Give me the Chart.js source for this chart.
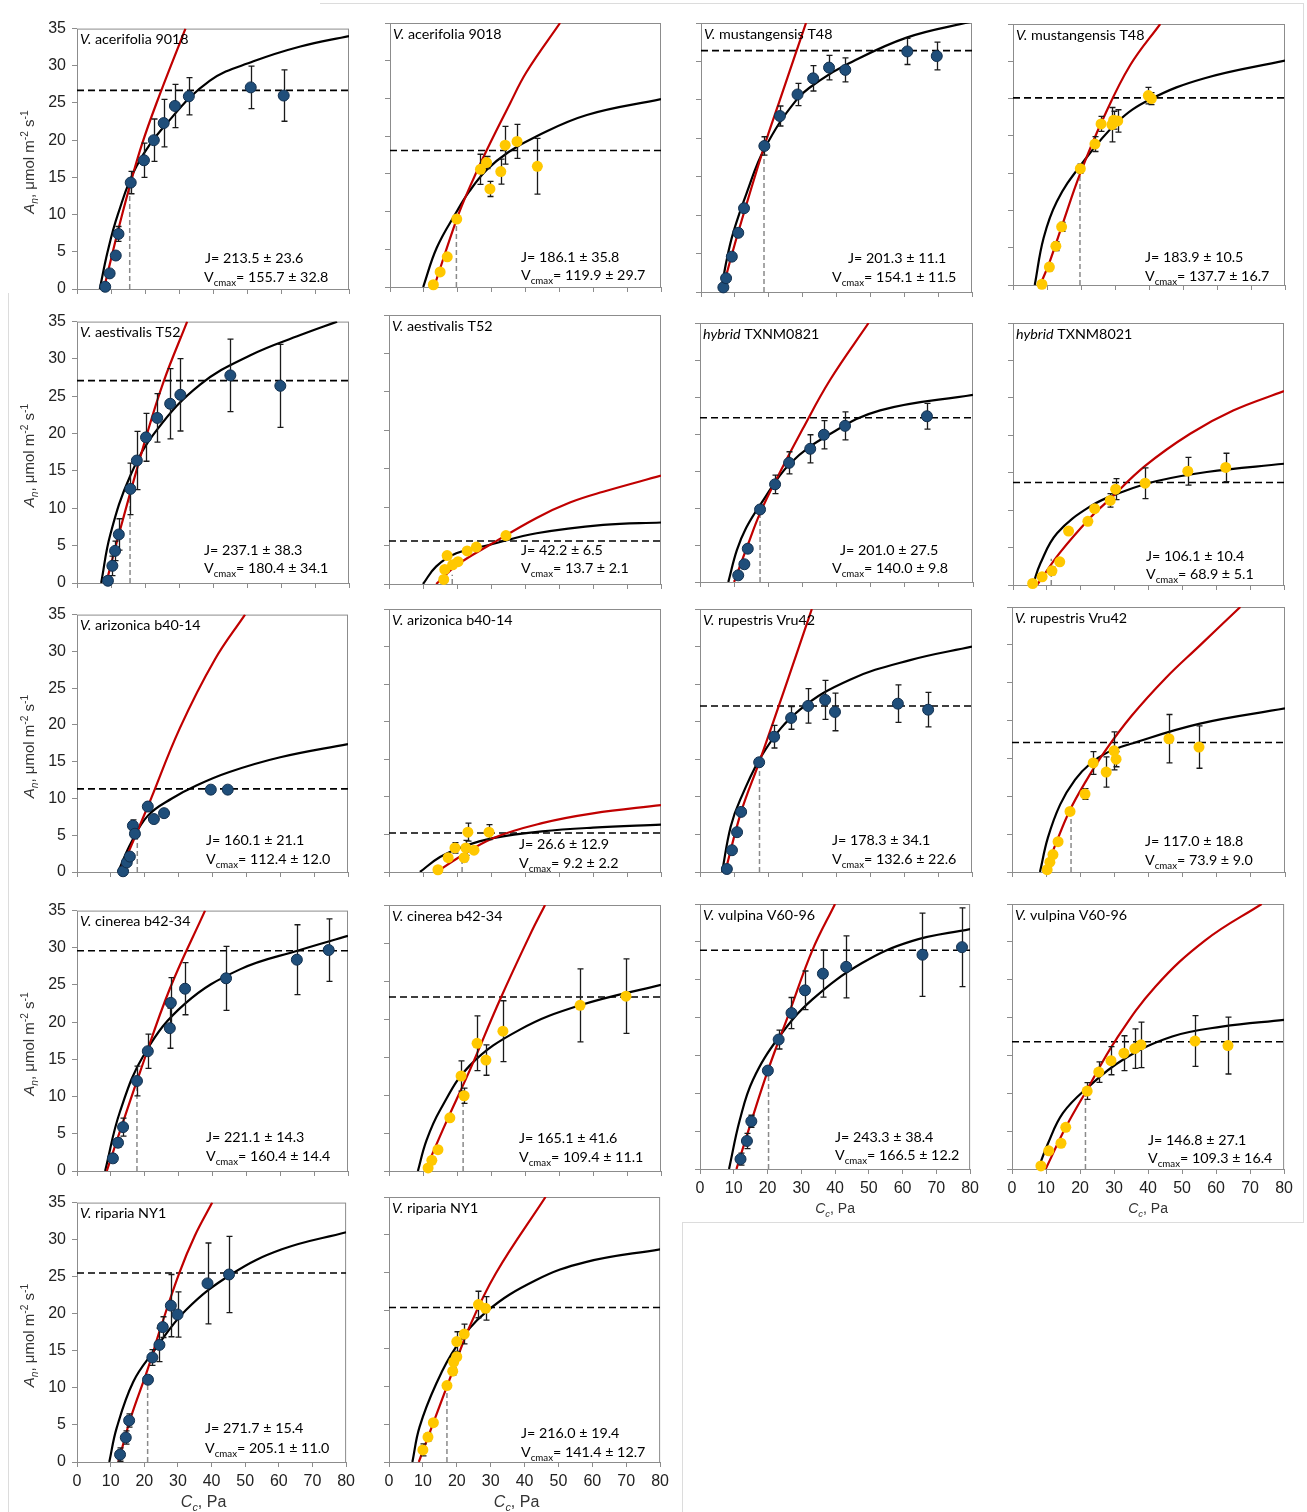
<!DOCTYPE html>
<html>
<head>
<meta charset="utf-8">
<script src="https://cdn.jsdelivr.net/npm/chart.js@4.4.1/dist/chart.umd.min.js"></script>
<style>
  body { margin: 0; background: #fff; }
  #fig { position: relative; width: 1307px; height: 1512px; overflow: hidden; background: #fff; }
  #fig canvas { position: absolute; }
  .rule { position: absolute; background: #dcdcdc; }
</style>
</head>
<body>
<div id="fig">
  <div class="rule" style="left:320px;top:3px;width:984px;height:1px"></div>
  <div class="rule" style="left:1303px;top:3px;width:1px;height:1220px"></div>
  <div class="rule" style="left:8px;top:293px;width:1px;height:1219px"></div>
  <div class="rule" style="left:682px;top:1222px;width:622px;height:1px"></div>
  <div class="rule" style="left:682px;top:1222px;width:1px;height:290px"></div>
</div>
<script>
// panel labels
const speciesItalic = ["V.", "V.", "V.", "V.", "V.", "V.", "hybrid", "hybrid", "V.", "V.",
  "V.", "V.", "V.", "V.", "V.", "V.", "V.", "V."];
const speciesName = [" acerifolia 9018", " acerifolia 9018", " mustangensis T48", " mustangensis T48",
  " aestivalis T52", " aestivalis T52", " TXNM0821", " TXNM8021", " arizonica b40-14", " arizonica b40-14",
  " rupestris Vru42", " rupestris Vru42", " cinerea b42-34", " cinerea b42-34", " vulpina V60-96",
  " vulpina V60-96", " riparia NY1", " riparia NY1"];
const jValues = ["213.5 ± 23.6", "186.1 ± 35.8", "201.3 ± 11.1", "183.9 ± 10.5", "237.1 ± 38.3", "42.2 ± 6.5",
  "201.0 ± 27.5", "106.1 ± 10.4", "160.1 ± 21.1", "26.6 ± 12.9", "178.3 ± 34.1", "117.0 ± 18.8",
  "221.1 ± 14.3", "165.1 ± 41.6", "243.3 ± 38.4", "146.8 ± 27.1", "271.7 ± 15.4", "216.0 ± 19.4"];
const vcmaxValues = ["155.7 ± 32.8", "119.9 ± 29.7", "154.1 ± 11.5", "137.7 ± 16.7", "180.4 ± 34.1", "13.7 ± 2.1",
  "140.0 ± 9.8", "68.9 ± 5.1", "112.4 ± 12.0", "9.2 ± 2.2", "132.6 ± 22.6", "73.9 ± 9.0",
  "160.4 ± 14.4", "109.4 ± 11.1", "166.5 ± 12.2", "109.3 ± 16.4", "205.1 ± 11.0", "141.4 ± 12.7"];

const xTicks = [0, 10, 20, 30, 40, 50, 60, 70, 80];
const yTicks = [0, 5, 10, 15, 20, 25, 30, 35];

// measured points: [Cc, An, error]
const obs1 = [[8.3,0.3,0],[9.6,2.1,0],[11.4,4.5,0.4],[12.2,7.4,1.0],[15.8,14.3,1.5],[19.7,17.3,2.3],[22.6,20.0,2.85],[25.5,22.3,3.2],[28.8,24.6,2.9],[32.9,25.9,2.5],[51.1,27.1,2.85],[60.8,26.0,3.45]];
const obs2 = [[12.8,0.3,0.3],[14.8,2.0,0],[16.9,4.0,0],[19.7,9.0,0],[26.7,15.6,2.0],[28.5,16.5,0.8],[29.5,13.0,1.0],[32.7,15.3,1.65],[34.0,18.8,2.5],[37.5,19.3,2.25],[43.5,16.0,3.7]];
const obs3 = [[6.6,0.6,0],[7.4,1.8,0],[9.1,4.6,0],[11.0,7.7,0],[12.7,10.9,0],[18.7,19.0,1.2],[23.3,22.9,1.3],[28.5,25.7,1.45],[33.1,27.8,1.65],[37.8,29.2,1.6],[42.6,28.9,1.55],[60.9,31.3,1.7],[69.6,30.7,1.8]];
const obs4 = [[8.5,0.1,0],[10.7,2.4,0.5],[12.6,5.2,0.6],[14.3,7.8,0.6],[19.8,15.6,0.6],[24.1,18.9,1.0],[25.9,21.6,1.0],[29.1,21.5,2.3],[29.6,22.1,1.2],[30.8,22.0,1.5],[39.8,25.4,1.1],[40.7,25.0,0.8]];
const obs5 = [[9.1,0.3,0.5],[10.4,2.3,1.3],[11.2,4.3,1.3],[12.3,6.5,2.1],[15.7,12.6,3.45],[17.6,16.4,3.9],[20.3,19.5,3.2],[23.6,22.1,3.25],[27.4,24.0,4.7],[30.4,25.2,4.85],[45.1,27.8,4.85],[59.8,26.4,5.55]];
const obs6 = [[16.1,0.6,0.4],[16.4,1.9,0],[17.1,3.7,0],[18.7,2.5,0],[20.3,2.9,0],[23.0,4.3,0],[25.7,4.8,0],[34.4,6.3,0.4]];
const obs7 = [[11.2,0.9,0],[13.0,2.4,0],[14.0,4.5,0.5],[17.6,9.8,0.5],[22.0,13.2,1.25],[26.1,16.1,1.5],[32.3,18.0,1.9],[36.3,19.9,1.9],[42.5,21.1,1.9],[66.5,22.4,1.75]];
const obs8 = [[5.8,0.2,0],[8.6,1.1,0],[11.5,1.9,0.5],[13.8,3.1,0],[16.4,7.2,0],[22.1,8.5,0],[24.1,10.2,0],[28.7,11.3,0.9],[30.3,12.8,1.4],[39.0,13.6,2.05],[51.6,15.2,1.85],[62.8,15.7,1.9]];
const obs9 = [[13.6,0.1,0],[14.7,1.3,0],[15.6,2.1,0],[16.5,6.3,0.8],[17.1,5.2,0.5],[20.9,8.9,0.6],[22.7,7.2,0],[25.7,8.0,0.5],[39.5,11.2,0],[44.5,11.2,0]];
const obs10 = [[14.4,0.3,0],[17.4,1.9,0],[19.4,3.2,0.7],[22.1,1.9,0.5],[22.6,3.2,1.0],[23.2,5.3,1.2],[25.0,2.9,0],[29.4,5.3,1.0]];
const obs11 = [[7.9,0.4,0],[9.4,2.9,0],[10.9,5.3,0],[12.1,8.0,0],[17.4,14.6,0],[21.8,18.0,1.5],[26.8,20.5,1.5],[31.8,22.1,2.3],[36.8,22.9,2.6],[39.7,21.3,2.5],[58.2,22.4,2.5],[67.1,21.6,2.3]];
const obs12 = [[10.3,0.3,0],[11.1,1.3,0],[12.0,2.3,0],[13.5,4.0,0],[17.0,8.0,0],[21.4,10.3,0.7],[23.8,14.4,1.5],[27.6,13.2,2.0],[29.9,16.0,2.5],[30.5,14.9,1.0],[46.0,17.6,3.2],[54.8,16.5,2.8]];
const obs13 = [[10.6,1.7,0.5],[12.1,3.8,0.6],[13.6,5.9,1.2],[17.7,12.1,2.0],[20.9,16.1,2.3],[27.4,19.2,2.7],[27.7,22.6,3.4],[31.9,24.5,3.5],[44.0,25.9,4.3],[64.9,28.4,4.7],[74.3,29.7,4.2]];
const obs14 = [[11.5,0.4,0.3],[12.6,1.4,0.4],[14.4,2.8,0],[17.9,7.0,0],[21.2,12.5,2.0],[22.1,9.9,1.0],[25.9,16.8,3.6],[28.5,14.6,2.0],[33.5,18.4,4.0],[56.2,21.8,4.8],[69.7,23.0,4.9]];
const obs15 = [[12.0,1.3,0.8],[13.9,3.7,1.0],[15.2,6.3,0.8],[20.1,13.0,0],[23.3,17.1,1.25],[27.1,20.6,2.05],[31.1,23.6,2.55],[36.4,25.8,3.1],[43.3,26.7,4.1],[65.9,28.3,5.5],[77.6,29.3,5.2]];
const obs16 = [[8.5,0.4,0],[10.8,2.4,0],[14.4,3.4,0],[15.8,5.5,0],[22.1,10.3,1.1],[25.5,12.8,1.35],[29.1,14.3,1.85],[32.9,15.3,2.3],[36.1,15.9,2.6],[37.9,16.4,3.0],[53.8,16.9,3.35],[63.5,16.3,3.75]];
const obs17 = [[12.8,1.0,0.9],[14.5,3.3,0.9],[15.5,5.6,0.9],[21.1,11.1,0],[22.4,14.1,1.05],[24.5,15.8,2.25],[25.5,18.2,1.4],[27.9,21.1,4.2],[29.9,19.9,3.05],[38.8,24.1,5.45],[45.2,25.3,5.15]];
const obs18 = [[10.0,1.6,0.8],[11.5,3.3,0.5],[13.1,5.2,0.4],[17.1,10.1,0],[18.8,12.0,0.5],[19.1,13.2,0],[20.0,13.9,0],[20.0,15.9,1.3],[22.2,16.9,1.3],[26.4,20.8,1.75],[28.5,20.3,1.55]];

// Rubisco-limited (red) curves: [Cc, An]
const red1 = [[7.9,0],[11.6,7.0],[15.5,13.8],[19.0,19.3],[23.4,25.0],[31.9,35]];
const red2 = [[13.0,0],[19.7,9.0],[23.6,13.3],[28.5,18.1],[35.4,24.3],[40.3,28.5],[50.2,35]];
const red3 = [[6.1,0],[11.0,7.8],[18.7,19.0],[23.3,25.0],[31.0,35]];
const red4 = [[8.0,0],[10.7,3.0],[14.3,7.8],[19.8,15.0],[26.7,22.5],[34.5,29.5],[43.3,35]];
const red5 = [[8.6,0],[12.3,6.5],[20.3,19.5],[25.5,27.0],[32.4,35]];
const red6 = [[13.9,0],[19.8,2.4],[29.7,5.1],[43.4,8.6],[53.2,10.6],[63.0,12.0],[80,14.1]];
const red7 = [[10.0,0],[14.0,5.0],[17.6,9.3],[22.5,14.0],[30.0,20.6],[38.1,27.3],[49.4,35]];
const red8 = [[7.1,0],[13.8,4.3],[22.8,9.0],[28.2,11.3],[39.0,15.9],[52.3,20.2],[65.0,23.3],[80,25.9]];
const red9 = [[12.7,0],[20.9,8.9],[30.4,19.6],[40.7,28.9],[49.6,35]];
const red10 = [[14.1,0],[20.0,1.8],[30.6,4.5],[45.0,6.5],[60.0,7.8],[80,8.9]];
const red11 = [[7.4,0],[12.1,8.0],[17.4,14.6],[25.0,24.5],[32.9,35]];
const red12 = [[9.7,0],[13.5,4.5],[17.0,8.2],[21.4,11.8],[27.0,15.8],[35.0,20.6],[45.0,25.6],[55.0,29.9],[66.9,35]];
const red13 = [[8.8,0],[13.6,6.6],[18.6,13.3],[27.4,24.5],[37.8,35]];
const red14 = [[10.6,0],[16.5,6.1],[23.8,13.3],[32.6,22.5],[41.5,31.1],[45.9,35]];
const red15 = [[10.8,0],[15.2,6.3],[20.1,13.0],[26.4,20.6],[33.3,28.9],[40.0,35]];
const red16 = [[9.9,0],[15.8,5.5],[22.1,10.5],[30.6,17.1],[42.2,24.1],[56.8,30.2],[73.4,35]];
const red17 = [[12.3,0],[16.0,6.0],[21.0,12.5],[25.0,18.3],[30.4,25.5],[35.0,30.5],[40.2,35]];
const red18 = [[8.8,0],[13.1,5.2],[17.8,10.8],[23.7,17.8],[31.5,24.9],[46.2,35]];

// RuBP-regeneration-limited (black) curves: [Cc, An]
const blk1 = [[6.7,0],[9.0,5.0],[12.0,10.0],[17.5,16.5],[26.3,22.2],[39.1,28.0],[51.9,30.6],[65.7,32.6],[80,34.0]];
const blk2 = [[9.8,0],[13.8,5.2],[19.7,10.0],[23.3,12.6],[28.5,15.5],[35.0,17.9],[43.3,20.0],[58.1,22.8],[80,24.9]];
const blk3 = [[5.9,0],[7.5,4.0],[9.5,7.7],[13.5,12.9],[18.7,18.6],[28.2,25.0],[35.0,27.5],[43.0,29.6],[60.7,33.1],[80,35.2]];
const blk4 = [[6.4,0],[9.0,6.3],[12.9,11.2],[19.8,16.0],[30.6,21.8],[40.4,24.9],[56.1,27.7],[80,30.1]];
const blk5 = [[7.1,0],[9.8,6.5],[15.7,14.4],[23.5,20.5],[36.3,26.6],[51.0,30.5],[65.7,33.2],[76.5,35]];
const blk6 = [[10.0,0],[13.9,2.3],[19.8,4.0],[29.7,5.1],[43.4,6.6],[63.0,7.7],[80,8.0]];
const blk7 = [[8.3,0],[10.8,4.3],[13.5,7.3],[17.6,10.4],[26.4,16.0],[38.1,20.0],[52.8,23.2],[80,25.3]];
const blk8 = [[5.9,0],[8.1,2.9],[13.0,6.9],[22.8,10.5],[32.6,12.5],[42.5,13.9],[57.2,15.1],[80,16.2]];
const blk9 = [[12.1,0],[16.0,4.0],[21.0,7.7],[28.0,10.0],[35.4,11.8],[45.0,13.6],[60.0,15.6],[80,17.4]];
const blk10 = [[9.1,0],[15.0,2.0],[22.0,3.4],[30.6,4.5],[45.0,5.4],[60.0,5.9],[80,6.3]];
const blk11 = [[6.5,0],[9.0,6.0],[11.8,9.6],[19.1,16.2],[29.4,21.6],[44.1,25.6],[61.8,28.2],[80,30.0]];
const blk12 = [[8.2,0],[10.5,4.5],[14.1,8.9],[18.5,12.2],[22.9,14.3],[28.0,15.8],[34.6,16.9],[55.1,19.6],[80,21.6]];
const blk13 = [[8.3,0],[12.7,8.0],[20.1,15.9],[31.9,22.5],[48.1,27.1],[65.8,29.7],[80,31.6]];
const blk14 = [[8.5,0],[11.0,4.0],[15.0,8.0],[23.8,13.9],[38.5,18.6],[56.2,21.8],[80,24.5]];
const blk15 = [[8.6,0],[11.8,6.5],[15.7,11.8],[23.5,17.5],[33.3,22.4],[48.0,27.2],[62.7,30.1],[80,31.7]];
const blk16 = [[7.7,0],[10.6,3.4],[15.0,7.4],[22.1,10.7],[32.5,14.4],[47.1,17.5],[61.7,18.8],[80,19.7]];
const blk17 = [[9.6,0],[11.8,4.6],[16.7,10.8],[22.6,14.8],[32.4,20.5],[46.1,25.4],[60.9,28.7],[80,31.0]];
const blk18 = [[6.9,0],[9.0,4.6],[13.9,10.3],[19.8,15.2],[28.6,19.8],[43.3,24.0],[58.0,26.4],[80,28.1]];

// TPU limit (dashed) and transition point (grey dashed): [Cc, An]
const tpuLimit = [26.7, 18.1, 31.4, 25.1, 27.1, 5.6, 22.2, 13.7, 11.3, 5.2, 22.1, 17.1, 29.6, 22.9, 28.9, 16.8, 25.5, 20.4];
const transition = [[15.5,14.1],[19.6,9.0],[18.6,19.0],[19.7,15.6],[15.6,12.6],[18.6,1.2],[17.6,9.8],[11.3,3.5],[17.8,5.0],
  [21.5,2.0],[17.5,14.6],[17.3,8.0],[17.7,12.1],[21.8,9.9],[20.3,13.0],[21.6,10.3],[21.0,11.1],[17.1,10.1]];

const obsAll = [obs1, obs2, obs3, obs4, obs5, obs6, obs7, obs8, obs9, obs10, obs11, obs12, obs13, obs14, obs15, obs16, obs17, obs18];
const redAll = [red1, red2, red3, red4, red5, red6, red7, red8, red9, red10, red11, red12, red13, red14, red15, red16, red17, red18];
const blkAll = [blk1, blk2, blk3, blk4, blk5, blk6, blk7, blk8, blk9, blk10, blk11, blk12, blk13, blk14, blk15, blk16, blk17, blk18];

// layout: plot area [left, top, right, bottom] in page pixels
const plotBox = [
  [77, 23, 349, 289], [390, 23, 661, 287], [701, 23, 972, 292], [1013, 24, 1285, 285],
  [77, 316, 349, 583], [389, 315, 661, 584], [700, 323, 973, 582], [1013, 323, 1284, 585],
  [77, 609, 348, 872], [389, 609, 661, 872], [700, 609, 972, 872], [1012, 607, 1285, 872],
  [77, 905, 348, 1171], [389, 905, 661, 1171], [700, 904, 972, 1169], [1012, 904, 1286, 1169],
  [77, 1197, 348, 1462], [389, 1197, 662, 1462]
];
// J / Vcmax text: [jx, vx, jBaseline, vBaseline] in page pixels
const statPos = [
  [205, 204, 263, 282], [521, 521, 262, 280], [848, 832, 263, 282], [1145, 1145, 262, 281],
  [204, 204, 555, 573], [521, 521, 555, 573], [840, 832, 555, 573], [1146, 1146, 561, 579],
  [206, 206, 845, 864], [519, 519, 849, 868], [832, 832, 845, 864], [1145, 1145, 846, 865],
  [206, 206, 1142, 1161], [519, 519, 1143, 1162], [835, 835, 1142, 1160], [1148, 1148, 1145, 1163],
  [205, 205, 1433, 1453], [521, 521, 1438, 1457]
];

const PAD_L = 80, PAD_T = 10, PAD_R = 12, PAD_B = 55;
const AXIS_GREY = "#8c8c8c";
const SANS = "'Liberation Sans', Arial, sans-serif";
const LABEL = "Lato, 'Open Sans', sans-serif";

const drawRich = (ctx, parts, x, y, size, family, align) => {
  const fontOf = (p) => (p.i ? "italic " : "") + (p.sub || p.sup ? size * 0.68 : size) + "px " + family;
  let width = 0;
  parts.forEach((p) => { ctx.font = fontOf(p); width += ctx.measureText(p.t).width; });
  let cx = align === "center" ? x - width / 2 : x;
  parts.forEach((p) => {
    ctx.font = fontOf(p);
    const dy = p.sub ? size * 0.28 : p.sup ? -size * 0.38 : 0;
    ctx.fillText(p.t, cx, y + dy);
    cx += ctx.measureText(p.t).width;
  });
};

const makeDeco = (i) => ({
  id: "deco" + i,
  beforeDatasetsDraw(chart) {
    const a = chart.chartArea, ctx = chart.ctx;
    ctx.save();
    ctx.strokeStyle = AXIS_GREY;
    ctx.lineWidth = 1;
    ctx.strokeRect(a.left + 0.5, a.top + 0.5, a.right - a.left - 1, a.bottom - a.top);
    ctx.restore();
  },
  beforeDatasetDraw(chart, args) {
    if (args.index !== 4) return;
    const xs = chart.scales.x, ys = chart.scales.y, ctx = chart.ctx;
    ctx.save();
    ctx.strokeStyle = "#1a1a1a";
    ctx.lineWidth = 1.3;
    obsAll[i].forEach(([x, y, e]) => {
      if (!e) return;
      const px = Math.round(xs.getPixelForValue(x)) + 0.5;
      const top = ys.getPixelForValue(y + e), bot = ys.getPixelForValue(Math.max(0, y - e));
      ctx.beginPath();
      ctx.moveTo(px, top); ctx.lineTo(px, bot);
      ctx.moveTo(px - 3, top); ctx.lineTo(px + 3, top);
      ctx.moveTo(px - 3, bot); ctx.lineTo(px + 3, bot);
      ctx.stroke();
    });
    ctx.restore();
  },
  afterDraw(chart) {
    const a = chart.chartArea, ctx = chart.ctx;
    const [L, T, R, B] = plotBox[i];
    const ox = L - PAD_L, oy = T - PAD_T;
    ctx.save();
    ctx.fillStyle = "#000";
    ctx.textBaseline = "alphabetic";
    ctx.textAlign = "left";
    drawRich(ctx, [{ t: speciesItalic[i], i: true }, { t: speciesName[i] }], a.left + 3, a.top + 15.5, 14.3, LABEL);
    const s = statPos[i];
    drawRich(ctx, [{ t: "J= " + jValues[i] }], s[0] - ox, s[2] - oy, 14.3, LABEL);
    drawRich(ctx, [{ t: "V" }, { t: "cmax", sub: true }, { t: "= " + vcmaxValues[i] }], s[1] - ox, s[3] - oy, 14.3, LABEL);
    ctx.fillStyle = "#333";
    if (i % 4 === 0) {
      ctx.save();
      ctx.translate(29 - ox, (T + B) / 2 + 6 - oy);
      ctx.rotate(-Math.PI / 2);
      drawRich(ctx, [{ t: "A", i: true }, { t: "n", i: true, sub: true }, { t: ", μmol m" }, { t: "-2", sup: true },
        { t: " s" }, { t: "-1", sup: true }], 0, 5, 15, SANS, "center");
      ctx.restore();
    }
    if (i >= 14) {
      const big = i >= 16;
      drawRich(ctx, [{ t: "C", i: true }, { t: "c", i: true, sub: true }, { t: ", Pa" }],
        (a.left + a.right) / 2 - (big ? 8 : 0), a.bottom + (big ? 45 : 44), big ? 16 : 14, SANS, "center");
    }
    ctx.restore();
  }
});

const fig = document.getElementById("fig");

plotBox.forEach(([L, T, R, B], i) => {
  const W = R - L + PAD_L + PAD_R, H = B - T + PAD_T + PAD_B;
  const cv = document.createElement("canvas");
  cv.width = W; cv.height = H;
  cv.style.left = (L - PAD_L) + "px";
  cv.style.top = (T - PAD_T) + "px";
  cv.style.width = W + "px";
  cv.style.height = H + "px";
  fig.appendChild(cv);

  const yellow = i % 2 === 1;
  const showY = i % 4 === 0;
  const showX = i >= 14;
  const toXY = (arr) => arr.map((p) => ({ x: p[0], y: p[1] }));

  new Chart(cv, {
    type: "scatter",
    data: {
      datasets: [
        { type: "line", data: [{ x: 0, y: tpuLimit[i] }, { x: 80, y: tpuLimit[i] }], borderColor: "#000",
          borderWidth: 1.6, borderDash: [7, 4], pointRadius: 0, order: 5 },
        { type: "line", data: [{ x: transition[i][0], y: 0 }, { x: transition[i][0], y: transition[i][1] }],
          borderColor: "#8a8a8a", borderWidth: 1.5, borderDash: [5, 3], pointRadius: 0, order: 4 },
        { type: "line", data: toXY(blkAll[i]), borderColor: "#000", borderWidth: 2.2, pointRadius: 0,
          tension: 0.4, order: 3 },
        { type: "line", data: toXY(redAll[i]), borderColor: "#c00000", borderWidth: 2.2, pointRadius: 0,
          tension: 0.4, order: 2 },
        { type: "scatter", data: toXY(obsAll[i]), pointRadius: 5.5,
          backgroundColor: yellow ? "#ffc800" : "#1f4e7a",
          borderColor: yellow ? "#ffc800" : "#12304f", borderWidth: yellow ? 0 : 1,
          clip: false, order: 1 }
      ]
    },
    options: {
      responsive: false,
      devicePixelRatio: 1,
      animation: false,
      events: [],
      layout: { autoPadding: false, padding: { left: 0, top: PAD_T, right: PAD_R, bottom: 0 } },
      plugins: { legend: { display: false }, tooltip: { enabled: false } },
      scales: {
        x: {
          type: "linear", min: 0, max: 80,
          afterFit: (s) => { s.height = PAD_B; },
          afterBuildTicks: (s) => { s.ticks = xTicks.map((v) => ({ value: v })); },
          border: { display: false },
          grid: { drawOnChartArea: false, drawTicks: true, tickLength: 5, color: AXIS_GREY },
          ticks: { display: showX, padding: 5, color: "#222", font: { family: SANS, size: 16 }, maxRotation: 0, autoSkip: false }
        },
        y: {
          type: "linear", min: 0, max: 35,
          afterFit: (s) => { s.width = PAD_L; },
          afterBuildTicks: (s) => { s.ticks = yTicks.map((v) => ({ value: v })); },
          border: { display: false },
          grid: { drawOnChartArea: false, drawTicks: true, tickLength: 5, color: AXIS_GREY },
          ticks: { display: showY, padding: 6, color: "#222", font: { family: SANS, size: 16 }, autoSkip: false }
        }
      }
    },
    plugins: [makeDeco(i)]
  });
});
</script>
</body>
</html>
